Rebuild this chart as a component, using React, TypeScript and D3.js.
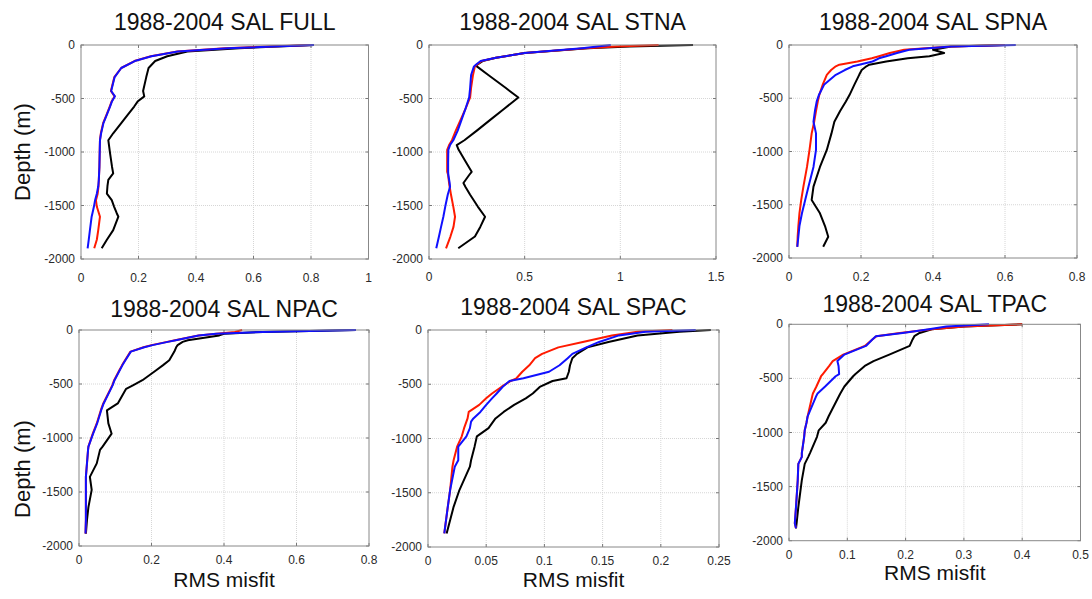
import React from "react";
import * as d3 from "d3";

// ---------- DATA ----------
const yTicks = [0, -500, -1000, -1500, -2000];

// FULL
const fullDepth = [0, -30, -60, -105, -150, -215, -300, -430, -480, -525, -575, -650, -730, -825, -890, -1010, -1140, -1200, -1260, -1320, -1390, -1450, -1510, -1570, -1605, -1730, -1820, -1900];
const fullBlack = [0.81, 0.55, 0.37, 0.3, 0.258, 0.235, 0.227, 0.216, 0.22, 0.198, 0.185, 0.163, 0.14, 0.112, 0.095, 0.101, 0.108, 0.112, 0.095, 0.092, 0.09, 0.107, 0.115, 0.124, 0.13, 0.112, 0.09, 0.072];
const fullRed = [0.8, 0.5, 0.335, 0.243, 0.186, 0.14, 0.116, 0.104, 0.117, 0.107, 0.1, 0.089, 0.077, 0.069, 0.066, 0.065, 0.064, 0.063, 0.062, 0.061, 0.058, 0.052, 0.055, 0.062, 0.066, 0.06, 0.055, 0.046];
const fullBlue = [0.81, 0.51, 0.337, 0.245, 0.187, 0.14, 0.117, 0.105, 0.118, 0.108, 0.101, 0.09, 0.078, 0.07, 0.066, 0.065, 0.064, 0.063, 0.062, 0.06, 0.055, 0.049, 0.045, 0.04, 0.037, 0.031, 0.027, 0.023];
const fullXTicks = [0, 0.2, 0.4, 0.6, 0.8, 1];

// STNA
const stnaDepth = [0, -15, -30, -75, -120, -150, -185, -200, -280, -400, -490, -600, -700, -800, -890, -935, -980, -1100, -1185, -1215, -1290, -1325, -1400, -1510, -1605, -1700, -1790, -1900];
const stnaBlack = [1.38, 1.05, 0.83, 0.5, 0.35, 0.28, 0.25, 0.25, 0.31, 0.4, 0.467, 0.39, 0.32, 0.25, 0.185, 0.145, 0.155, 0.195, 0.223, 0.21, 0.18, 0.19, 0.215, 0.255, 0.293, 0.268, 0.24, 0.153];
const stnaRed = [1.2, 0.98, 0.82, 0.5, 0.35, 0.275, 0.25, 0.24, 0.23, 0.22, 0.215, 0.19, 0.165, 0.14, 0.12, 0.105, 0.095, 0.095, 0.095, 0.1, 0.105, 0.108, 0.115, 0.127, 0.136, 0.128, 0.112, 0.089];
const stnaBlue = [0.95, 0.88, 0.8, 0.5, 0.35, 0.27, 0.245, 0.235, 0.22, 0.215, 0.21, 0.19, 0.17, 0.15, 0.127, 0.11, 0.101, 0.1, 0.1, 0.101, 0.108, 0.11, 0.098, 0.085, 0.075, 0.063, 0.052, 0.038];
const stnaXTicks = [0, 0.5, 1, 1.5];

// SPNA
const spnaDepth = [0, -15, -45, -75, -105, -125, -155, -185, -200, -235, -280, -370, -470, -530, -620, -720, -830, -985, -1145, -1330, -1455, -1580, -1700, -1800, -1895];
const spnaBlack = [0.6, 0.45, 0.4, 0.431, 0.39, 0.33, 0.27, 0.223, 0.215, 0.202, 0.195, 0.182, 0.168, 0.158, 0.142, 0.126, 0.118, 0.105, 0.086, 0.068, 0.063, 0.086, 0.1, 0.109, 0.095];
const spnaRed = [0.6, 0.45, 0.32, 0.28, 0.25, 0.23, 0.19, 0.14, 0.13, 0.117, 0.105, 0.094, 0.084, 0.08, 0.075, 0.07, 0.063, 0.057, 0.05, 0.04, 0.034, 0.029, 0.026, 0.024, 0.023];
const spnaBlue = [0.63, 0.45, 0.334, 0.3, 0.27, 0.25, 0.232, 0.195, 0.177, 0.155, 0.13, 0.098, 0.083, 0.077, 0.072, 0.068, 0.075, 0.075, 0.068, 0.054, 0.045, 0.036, 0.029, 0.026, 0.023];
const spnaXTicks = [0, 0.2, 0.4, 0.6, 0.8];

// NPAC
const npacDepth = [0, -18, -35, -50, -95, -110, -140, -160, -200, -280, -325, -375, -465, -510, -545, -680, -745, -865, -960, -1080, -1110, -1235, -1360, -1480, -1640, -1760, -1885];
const npacBlack = [0.764, 0.507, 0.4, 0.387, 0.3, 0.286, 0.272, 0.268, 0.263, 0.249, 0.232, 0.212, 0.175, 0.15, 0.13, 0.107, 0.077, 0.081, 0.09, 0.065, 0.058, 0.049, 0.03, 0.035, 0.026, 0.022, 0.019];
const npacRed = [0.45, 0.43, 0.38, 0.33, 0.265, 0.243, 0.2, 0.178, 0.142, 0.127, 0.119, 0.111, 0.097, 0.092, 0.087, 0.067, 0.06, 0.049, 0.038, 0.026, 0.025, 0.022, 0.019, 0.019, 0.019, 0.019, 0.018];
const npacBlue = [0.764, 0.507, 0.378, 0.33, 0.267, 0.245, 0.203, 0.18, 0.143, 0.128, 0.12, 0.112, 0.098, 0.093, 0.088, 0.068, 0.061, 0.05, 0.039, 0.026, 0.025, 0.022, 0.019, 0.019, 0.019, 0.019, 0.018];
const npacXTicks = [0, 0.2, 0.4, 0.6, 0.8];

// SPAC
const spacDepth = [0, -16, -50, -110, -160, -220, -260, -325, -385, -445, -470, -525, -585, -630, -690, -755, -815, -845, -905, -980, -1075, -1200, -1260, -1475, -1630, -1875];
const spacBlack = [0.243, 0.216, 0.18, 0.155, 0.137, 0.128, 0.124, 0.122, 0.121, 0.119, 0.107, 0.096, 0.09, 0.084, 0.074, 0.065, 0.058, 0.056, 0.052, 0.042, 0.04, 0.037, 0.036, 0.027, 0.022, 0.016];
const spacRed = [0.21, 0.18, 0.158, 0.133, 0.112, 0.098, 0.092, 0.087, 0.081, 0.076, 0.071, 0.063, 0.055, 0.05, 0.044, 0.035, 0.034, 0.033, 0.031, 0.029, 0.025, 0.022, 0.021, 0.019, 0.017, 0.014];
const spacBlue = [0.23, 0.187, 0.164, 0.147, 0.136, 0.124, 0.12, 0.113, 0.104, 0.082, 0.07, 0.064, 0.059, 0.055, 0.05, 0.045, 0.039, 0.037, 0.036, 0.033, 0.026, 0.026, 0.023, 0.019, 0.017, 0.014];
const spacXTicks = [0, 0.05, 0.1, 0.15, 0.2, 0.25];

// TPAC
const tpacDepth = [0, -20, -46, -80, -110, -140, -200, -280, -340, -385, -460, -480, -575, -640, -660, -850, -910, -980, -1040, -1190, -1225, -1290, -1440, -1690, -1840, -1885];
const tpacBlack = [0.4, 0.3, 0.245, 0.224, 0.215, 0.212, 0.207, 0.172, 0.145, 0.13, 0.114, 0.11, 0.095, 0.088, 0.086, 0.068, 0.063, 0.051, 0.048, 0.036, 0.033, 0.027, 0.022, 0.016, 0.013, 0.012];
const tpacRed = [0.4, 0.3, 0.245, 0.19, 0.15, 0.143, 0.13, 0.093, 0.075, 0.069, 0.058, 0.055, 0.047, 0.041, 0.04, 0.032, 0.03, 0.027, 0.026, 0.022, 0.022, 0.016, 0.015, 0.012, 0.01, 0.012];
const tpacBlue = [0.343, 0.27, 0.24, 0.195, 0.149, 0.143, 0.132, 0.095, 0.083, 0.085, 0.086, 0.08, 0.062, 0.049, 0.047, 0.032, 0.03, 0.027, 0.026, 0.022, 0.022, 0.016, 0.015, 0.012, 0.01, 0.012];
const tpacXTicks = [0, 0.1, 0.2, 0.3, 0.4, 0.5];

// ---------- LAYOUT ----------
type Panel = {
  title: string;
  depth: number[];
  black: number[];
  red: number[];
  blue: number[];
  xTicks: number[];
  box: [number, number, number, number]; // x0, x1, y0, y1
  titleY: number;
  tickOff: number;
  showY: boolean;
  showX: boolean;
  xLabelY: number;
  yLabelY: number;
};

const panels: Panel[] = [
  { title: "1988-2004 SAL FULL", depth: fullDepth, black: fullBlack, red: fullRed, blue: fullBlue, xTicks: fullXTicks, box: [81, 368.5, 45, 259], titleY: 30, tickOff: 23, showY: true, showX: false, xLabelY: 0, yLabelY: 152 },
  { title: "1988-2004 SAL STNA", depth: stnaDepth, black: stnaBlack, red: stnaRed, blue: stnaBlue, xTicks: stnaXTicks, box: [429, 716, 45, 259], titleY: 30, tickOff: 22, showY: false, showX: false, xLabelY: 0, yLabelY: 0 },
  { title: "1988-2004 SAL SPNA", depth: spnaDepth, black: spnaBlack, red: spnaRed, blue: spnaBlue, xTicks: spnaXTicks, box: [789, 1077, 45, 258], titleY: 30, tickOff: 23, showY: false, showX: false, xLabelY: 0, yLabelY: 0 },
  { title: "1988-2004 SAL NPAC", depth: npacDepth, black: npacBlack, red: npacRed, blue: npacBlue, xTicks: npacXTicks, box: [79, 369, 330, 546], titleY: 317, tickOff: 18, showY: true, showX: true, xLabelY: 587, yLabelY: 469 },
  { title: "1988-2004 SAL SPAC", depth: spacDepth, black: spacBlack, red: spacRed, blue: spacBlue, xTicks: spacXTicks, box: [428, 719, 330, 547], titleY: 315, tickOff: 18, showY: false, showX: true, xLabelY: 587, yLabelY: 0 },
  { title: "1988-2004 SAL TPAC", depth: tpacDepth, black: tpacBlack, red: tpacRed, blue: tpacBlue, xTicks: tpacXTicks, box: [789, 1080.5, 324.3, 540.7], titleY: 312, tickOff: 18, showY: false, showX: true, xLabelY: 580, yLabelY: 0 },
];

const FONT = "'Liberation Sans', Arial, Helvetica, sans-serif";

function PanelView({ p }: { p: Panel }) {
  const [x0, x1, y0, y1] = p.box;
  const xMax = p.xTicks[p.xTicks.length - 1];
  const x = d3.scaleLinear().domain([0, xMax]).range([x0, x1]);
  const y = d3.scaleLinear().domain([0, -2000]).range([y0, y1]);
  const line = d3
    .line<number>()
    .x((v) => x(v))
    .y((_, i) => y(p.depth[i]));
  const series: [number[], string][] = [
    [p.black, "#000000"],
    [p.red, "#ff1a00"],
    [p.blue, "#1010ff"],
  ];
  const tl = 3;
  return (
    <g>
      <text x={(x0 + x1) / 2} y={p.titleY} textAnchor="middle" fontFamily={FONT} fontSize={23} fill="#111">
        {p.title}
      </text>
      {/* grid */}
      {p.xTicks.slice(1, -1).map((t) => (
        <line key={"gx" + t} x1={x(t)} x2={x(t)} y1={y0} y2={y1} stroke="#d6d6d6" strokeWidth={1} strokeDasharray="1,1" />
      ))}
      {yTicks.slice(1, -1).map((t) => (
        <line key={"gy" + t} x1={x0} x2={x1} y1={y(t)} y2={y(t)} stroke="#d6d6d6" strokeWidth={1} strokeDasharray="1,1" />
      ))}
      {/* ticks */}
      {p.xTicks.map((t) => (
        <g key={"tx" + t}>
          <line x1={x(t)} x2={x(t)} y1={y1} y2={y1 - tl} stroke="#777" />
          <line x1={x(t)} x2={x(t)} y1={y0} y2={y0 + tl} stroke="#777" />
          <text x={x(t)} y={y1 + p.tickOff} textAnchor="middle" fontFamily={FONT} fontSize={12} fill="#2a2a2a">
            {String(t)}
          </text>
        </g>
      ))}
      {yTicks.map((t) => (
        <g key={"ty" + t}>
          <line x1={x0} x2={x0 + tl} y1={y(t)} y2={y(t)} stroke="#777" />
          <line x1={x1} x2={x1 - tl} y1={y(t)} y2={y(t)} stroke="#777" />
          <text x={x0 - 6} y={y(t) + 4} textAnchor="end" fontFamily={FONT} fontSize={12} fill="#2a2a2a">
            {String(t)}
          </text>
        </g>
      ))}
      {/* data */}
      {series.map(([vals, c], i) => (
        <path key={i} d={line(vals) || ""} fill="none" stroke={c} strokeWidth={2} strokeLinejoin="round" />
      ))}
      <rect x={x0} y={y0} width={x1 - x0} height={y1 - y0} fill="none" stroke="#888" strokeWidth={1} />
      {p.showY && (
        <text transform={`translate(30,${p.yLabelY}) rotate(-90)`} textAnchor="middle" fontFamily={FONT} fontSize={22} fill="#111">
          Depth (m)
        </text>
      )}
      {p.showX && (
        <text x={(x0 + x1) / 2} y={p.xLabelY} textAnchor="middle" fontFamily={FONT} fontSize={21} fill="#111">
          RMS misfit
        </text>
      )}
    </g>
  );
}

export default function App() {
  return (
    <div style={{ position: "absolute", left: 0, top: 0 }}>
      <svg width={1092} height={599} style={{ display: "block", background: "#fff" }}>
        {panels.map((p) => (
          <PanelView key={p.title} p={p} />
        ))}
      </svg>
    </div>
  );
}
